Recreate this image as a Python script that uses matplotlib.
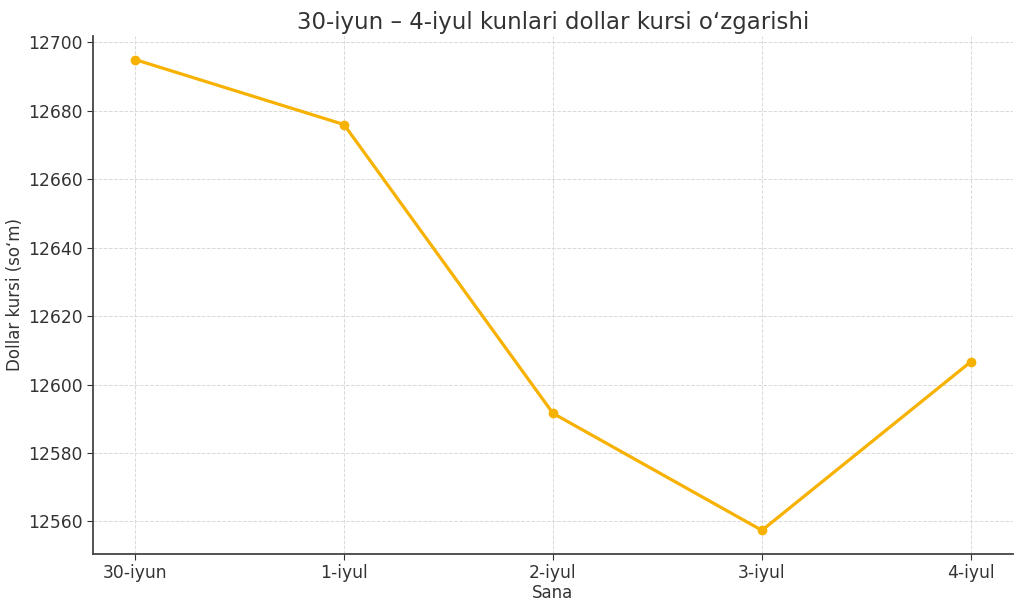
import numpy as np
import matplotlib.pyplot as plt

plt.rcParams['font.family'] = ['DejaVu Sans']

# dollar rate in so'm
dates = ["30-iyun", "1-iyul", "2-iyul", "3-iyul", "4-iyul"]
rates = [12695.0, 12676.0, 12591.6, 12557.4, 12606.7]

text_color = '#333333'

fig, ax = plt.subplots(figsize=(10.24, 6.10), dpi=100)
fig.subplots_adjust(left=0.091, right=0.989, top=0.941, bottom=0.092)

ax.plot(dates, rates, marker='o', color='#f7b100', linewidth=2.3, markersize=6)

ax.set_title("30-iyun \u2013 4-iyul kunlari dollar kursi o\u2018zgarishi",
             fontsize=16.5, color=text_color, pad=5)
ax.set_xlabel("Sana", fontsize=12, color=text_color, labelpad=1)
ax.set_ylabel("Dollar kursi (so\u2018m)", fontsize=12, color=text_color, labelpad=3)

ax.grid(True, linestyle='--', linewidth=0.7, color='#d9d9d9')
ax.set_axisbelow(True)
ax.tick_params(axis='both', labelsize=12.3, colors=text_color, length=4)
for side in ["top", "right"]:
    ax.spines[side].set_visible(False)
for side in ["left", "bottom"]:
    ax.spines[side].set_color('#444444')
    ax.spines[side].set_linewidth(1.3)

plt.savefig("out.png")
